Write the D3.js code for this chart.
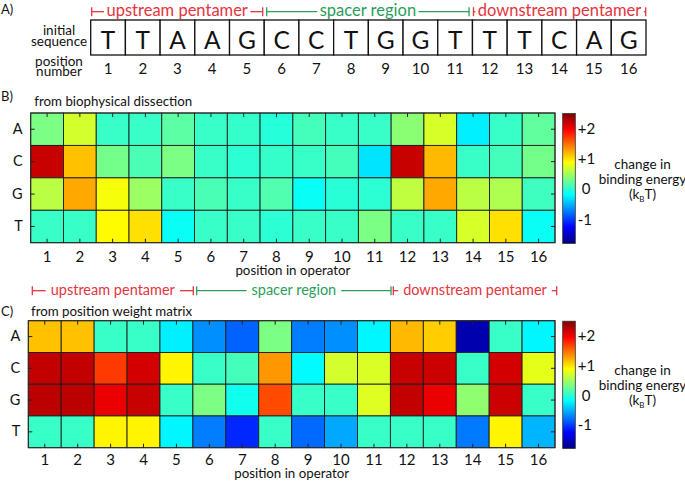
<!DOCTYPE html>
<html><head><meta charset="utf-8">
<script src="https://cdn.jsdelivr.net/npm/d3@7"></script>
<style>
body{margin:0;background:#fff}
svg{display:block}
text{font-family:Lato,"Open Sans",sans-serif;fill:#111}
</style>
</head><body>
<svg id="chart" width="685" height="483"></svg>
<script>
// ---------------- data ----------------
const positions = [1,2,3,4,5,6,7,8,9,10,11,12,13,14,15,16];
const bases = ["A","C","G","T"];
const initialSequence = ["T","T","A","A","G","C","C","T","G","G","T","T","T","C","A","G"];

const regionLabels = ["upstream pentamer","spacer region","downstream pentamer"];
const regionFrom   = [1, 6, 12];
const regionTo     = [5, 11, 16];

// panel B: from biophysical dissection (change in binding energy, kBT)
const biophysA = [0.33, 0.70, 0.05, 0.05, 0.20, 0.05, 0.03,-0.03, 0.10, 0.05, 0.05, 0.40, 0.72,-0.25, 0.05, 0.22];
const biophysC = [2.20, 1.15, 0.30, 0.12, 0.33, 0.05, 0.00, 0.03, 0.05, 0.10,-0.30, 2.20, 1.18, 0.05, 0.10, 0.30];
const biophysG = [0.60, 1.25, 0.85, 0.47, 0.05, 0.12, 0.05, 0.15,-0.15,-0.02, 0.00, 0.62, 1.25, 0.60, 0.55, 0.08];
const biophysT = [0.05, 0.05, 0.90, 1.02,-0.15, 0.05, 0.05, 0.00, 0.05, 0.05, 0.33, 0.05, 0.05, 0.72, 1.02,-0.15];

// panel C: from position weight matrix
const pwmA = [1.15, 1.15, 0.05, 0.05,-0.25,-0.66,-0.85, 0.33,-0.73,-0.66,-0.22, 1.18, 1.10,-1.60, 0.05,-0.22];
const pwmC = [2.22, 2.22, 1.72, 2.15, 0.93, 0.05, 0.10, 1.32,-0.20, 0.70, 0.73, 2.20, 2.18, 0.05, 2.15, 0.78];
const pwmG = [2.25, 2.25, 2.05, 2.20, 0.05, 0.33,-0.12, 1.65, 0.05, 0.05, 0.75, 2.22, 2.05, 0.42, 2.18, 0.05];
const pwmT = [0.05, 0.05, 0.93, 0.93,-0.22,-0.73,-1.10, 0.05,-0.82,-0.55, 0.05, 0.05, 0.05,-0.75, 0.93,-0.50];

const colorDomain = [-1.8, 2.5];
const cbTicks = [-1, 0, 1, 2];
const cbTickLabels = ["-1", " 0", "+1", "+2"];

// ---------------- helpers ----------------
const svg = d3.select("#chart");
const RED = "#e4343c", GREEN = "#2b9e5b";

function jet(t){
  t = Math.max(0, Math.min(1, t));
  const cl = v => Math.max(0, Math.min(1, v));
  const r = cl(1.5 - Math.abs(4*t - 3));
  const g = cl(1.5 - Math.abs(4*t - 2));
  const b = cl(1.5 - Math.abs(4*t - 1));
  return d3.rgb(Math.round(r*255), Math.round(g*255), Math.round(b*255)).formatHex();
}
const norm = d3.scaleLinear().domain(colorDomain).range([0,1]);
const color = v => jet(norm(v));

function label(g, str, x, y, size, anchor, fill){
  return g.append("text").attr("x", x).attr("y", y)
    .attr("font-size", size).attr("text-anchor", anchor || "start")
    .style("fill", fill || "#111").text(str);
}

// bracket row: regions drawn over scale xs
function brackets(xs, lineY, fontSize, gap, startOff, endOff){
  const g = svg.append("g");
  regionLabels.forEach((lab, i) => {
    const col = i === 1 ? GREEN : RED;
    const s = xs(regionFrom[i]) + startOff[i];
    const e = xs(regionTo[i]) + xs.bandwidth() + endOff[i];
    const t = label(g, lab, (s+e)/2, lineY + 3.8, fontSize, "middle", col);
    const w = t.node().getComputedTextLength();
    const tl = (s+e)/2 - w/2, tr = (s+e)/2 + w/2;
    const st = {stroke: col, "stroke-width": 1.3};
    const ln = (x1,y1,x2,y2) => { const l = g.append("line").attr("x1",x1).attr("y1",y1).attr("x2",x2).attr("y2",y2); Object.entries(st).forEach(([k,v]) => l.attr(k,v)); };
    ln(s, lineY, tl - gap, lineY);
    ln(tr + gap, lineY, e, lineY);
    ln(s, lineY - 4.5, s, lineY + 4.5);
    ln(e, lineY - 4.5, e, lineY + 4.5);
  });
}

// ---------------- panel A ----------------
label(svg, "A)", 1, 13.5, 13);
const seqX = d3.scaleBand().domain(positions).range([90.7, 646]);
const seqTop = 20, seqBot = 55;
const gA = svg.append("g");
gA.selectAll("rect").data(positions).join("rect")
  .attr("x", d => seqX(d)).attr("y", seqTop)
  .attr("width", seqX.bandwidth()).attr("height", seqBot - seqTop)
  .attr("fill", "#fff").attr("stroke", "#111").attr("stroke-width", 1.3);
gA.selectAll("text.seq").data(positions).join("text").attr("class","seq")
  .attr("x", d => seqX(d) + seqX.bandwidth()/2).attr("y", 49.3)
  .attr("text-anchor","middle").attr("font-size", 24.5)
  .text(d => initialSequence[d-1]);
gA.selectAll("text.num").data(positions).join("text").attr("class","num")
  .attr("x", d => seqX(d) + seqX.bandwidth()/2).attr("y", 74)
  .attr("text-anchor","middle").attr("font-size", 15)
  .text(d => d);
label(gA, "initial", 59, 35, 13.5, "middle");
label(gA, "sequence", 59, 45.5, 13.5, "middle");
label(gA, "position", 59, 65.5, 13.5, "middle");
label(gA, "number", 59, 76, 13.5, "middle");

brackets(seqX, 11.7, 16.5, 2.5, [1, 2.5, 1], [-1.5, -3.4, -0.3]);

// ---------------- heatmaps ----------------
const defs = svg.append("defs");
const grad = defs.append("linearGradient").attr("id","jetgrad")
  .attr("x1",0).attr("y1",1).attr("x2",0).attr("y2",0);
d3.range(0, 1.0001, 0.025).forEach(t => grad.append("stop").attr("offset", t).attr("stop-color", jet(t)));

function heatmap(L, matrixRows){
  const g = svg.append("g");
  const x = d3.scaleBand().domain(positions).range([L.x0, L.x1]);
  const y = d3.scaleBand().domain(bases).range([L.y0, L.y1]);
  const cells = [];
  bases.forEach((b, ri) => positions.forEach((p, ci) => cells.push({b, p, v: matrixRows[ri][ci]})));
  g.selectAll("rect.cell").data(cells).join("rect").attr("class","cell")
    .attr("x", d => x(d.p)).attr("y", d => y(d.b))
    .attr("width", x.bandwidth()).attr("height", y.bandwidth())
    .attr("fill", d => color(d.v))
    .attr("stroke", "#1c1c1c").attr("stroke-width", 0.9);
  g.append("rect").attr("x", L.x0).attr("y", L.y0)
    .attr("width", L.x1 - L.x0).attr("height", L.y1 - L.y0)
    .attr("fill","none").attr("stroke","#2a2a2a").attr("stroke-width", 1);

  const styleAxis = (ax, fs) => {
    ax.select(".domain").remove();
    ax.selectAll("line").attr("stroke","#222");
    ax.selectAll("text").attr("font-size", fs).attr("font-family", null).style("fill","#111");
    ax.attr("font-size", null).attr("font-family", null);
  };
  const left = g.append("g").attr("transform", `translate(${L.x0},0)`)
    .call(d3.axisLeft(y).tickSizeInner(-4).tickSizeOuter(0).tickPadding(8));
  styleAxis(left, 14.5);
  const right = g.append("g").attr("transform", `translate(${L.x1},0)`)
    .call(d3.axisRight(y).tickSizeInner(-4).tickSizeOuter(0).tickFormat(""));
  styleAxis(right, 10);
  const top = g.append("g").attr("transform", `translate(0,${L.y0})`)
    .call(d3.axisTop(x).tickSizeInner(-4).tickSizeOuter(0).tickFormat(""));
  styleAxis(top, 10);
  const bottom = g.append("g").attr("transform", `translate(0,${L.y1})`)
    .call(d3.axisBottom(x).tickSizeInner(-4).tickSizeOuter(0).tickPadding(L.tickPad));
  styleAxis(bottom, 15);

  label(g, "position in operator", (L.x0 + L.x1)/2, L.titleY, 13.3, "middle");
  label(g, L.subtitle, L.subX, L.subY, 13.3, "start");
  label(g, L.panel, 1, L.panelY, 13);

  // colorbar
  const cb = {x0: 562.7, x1: 575.3, y0: L.y0 + 0.5, y1: L.y1 + 0.8};
  g.append("rect").attr("x", cb.x0).attr("y", cb.y0)
    .attr("width", cb.x1 - cb.x0).attr("height", cb.y1 - cb.y0)
    .attr("fill", "url(#jetgrad)").attr("stroke","#333").attr("stroke-width", 0.8);
  const cs = d3.scaleLinear().domain(colorDomain).range([cb.y1, cb.y0]);
  const cax = g.append("g").attr("transform", `translate(${cb.x1},0)`)
    .call(d3.axisRight(cs).tickValues(cbTicks).tickSize(0).tickPadding(2.5)
      .tickFormat(d => cbTickLabels[cbTicks.indexOf(d)]));
  styleAxis(cax, 15);
  cax.selectAll("text").style("white-space","pre");

  const cx = 642.5, cy = (cb.y0 + cb.y1)/2;
  label(g, "change in", cx, cy - 10, 13.5, "middle");
  label(g, "binding energy", cx, cy + 5.5, 13.5, "middle");
  const kt = label(g, "", cx, cy + 20.5, 13.5, "middle");
  kt.append("tspan").text("(k");
  kt.append("tspan").attr("font-size", 8).attr("dy", 2.5).text("B");
  kt.append("tspan").attr("dy", -2.5).text("T)");
  return x;
}

heatmap({x0: 30.7, x1: 555, y0: 113, y1: 242.7, tickPad: 8.2, titleY: 275,
         subtitle: "from biophysical dissection", subX: 34.3, subY: 106, panel: "B)", panelY: 101},
        [biophysA, biophysC, biophysG, biophysT]);

const xC = heatmap({x0: 28.3, x1: 555, y0: 320.7, y1: 447.7, tickPad: 6.8, titleY: 478,
         subtitle: "from position weight matrix", subX: 31, subY: 315.5, panel: "C)", panelY: 315.7},
        [pwmA, pwmC, pwmG, pwmT]);

brackets(xC, 290.7, 14.5, 5, [4, 3.8, 2.9], [0.4, 0.6, 1.7]);
</script>
</body></html>
